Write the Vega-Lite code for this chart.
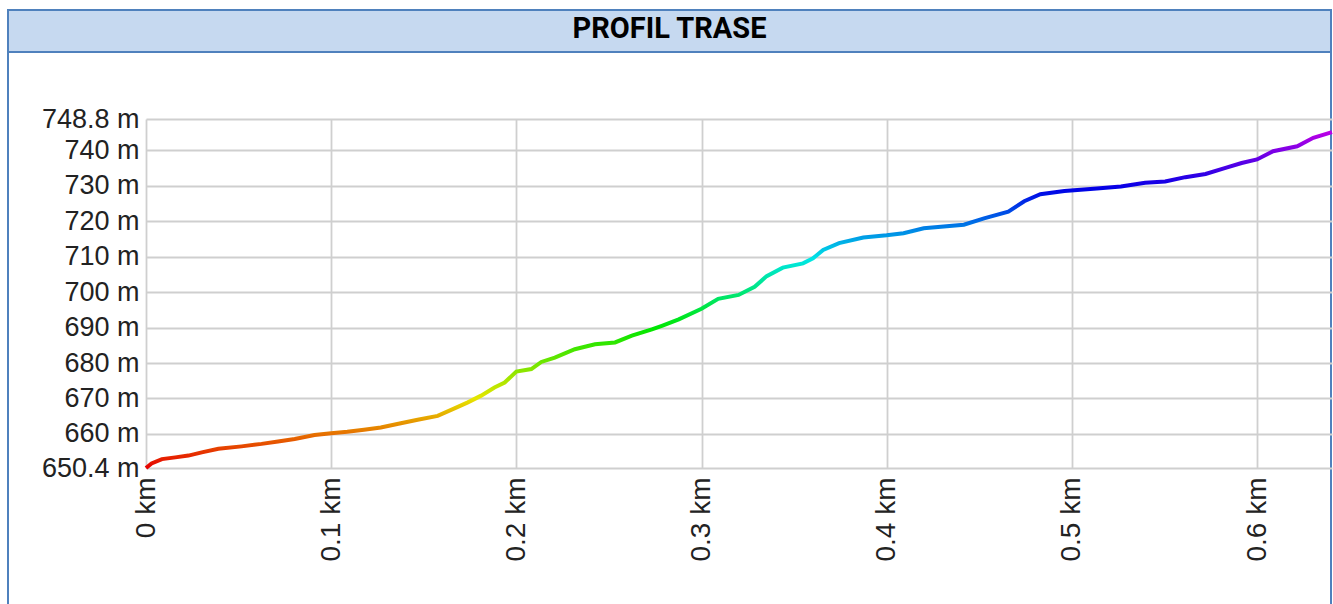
{
  "$schema": "https://vega.github.io/schema/vega-lite/v6.json",
  "background": "white",
  "padding": {"left": 7, "top": 9, "right": 0, "bottom": 0},
  "config": {"view": {"stroke": null}},
  "spacing": 0,
  "bounds": "flush",
  "vconcat": [
    {
      "width": 1323,
      "height": 42,
      "view": {"fill": "#c6d9f0", "stroke": "#4f81bd", "strokeWidth": 2},
      "data": {"values": [{"t": "PROFIL TRASE"}]},
      "mark": {"type": "text", "font": "Roboto", "fontSize": 29, "fontWeight": "bold", "color": "#000000", "dy": -2},
      "encoding": {"text": {"field": "t", "type": "nominal"}}
    },
    {
      "width": 1323,
      "height": 555,
      "view": {"fill": "white", "stroke": "#4f81bd", "strokeWidth": 2},
      "data": {"values": [
        {"km": 0, "m": 650.4},
        {"km": 0.003, "m": 651.7},
        {"km": 0.0086, "m": 652.9},
        {"km": 0.0158, "m": 653.4},
        {"km": 0.0229, "m": 653.9},
        {"km": 0.0301, "m": 654.8},
        {"km": 0.0391, "m": 655.8},
        {"km": 0.0516, "m": 656.5},
        {"km": 0.0624, "m": 657.2},
        {"km": 0.0713, "m": 657.9},
        {"km": 0.0803, "m": 658.6},
        {"km": 0.091, "m": 659.7},
        {"km": 0.1, "m": 660.2},
        {"km": 0.1087, "m": 660.6},
        {"km": 0.1177, "m": 661.2},
        {"km": 0.1268, "m": 661.8},
        {"km": 0.1376, "m": 663.0},
        {"km": 0.1467, "m": 664.0},
        {"km": 0.1575, "m": 665.1},
        {"km": 0.1666, "m": 667.2},
        {"km": 0.1738, "m": 668.9},
        {"km": 0.181, "m": 670.8},
        {"km": 0.1882, "m": 673.1},
        {"km": 0.1937, "m": 674.5},
        {"km": 0.2, "m": 677.6},
        {"km": 0.2081, "m": 678.3},
        {"km": 0.2135, "m": 680.3},
        {"km": 0.2208, "m": 681.5},
        {"km": 0.2316, "m": 683.9},
        {"km": 0.2425, "m": 685.3},
        {"km": 0.2533, "m": 685.8},
        {"km": 0.2624, "m": 687.7},
        {"km": 0.2732, "m": 689.5},
        {"km": 0.2786, "m": 690.5},
        {"km": 0.2877, "m": 692.3},
        {"km": 0.3, "m": 695.3},
        {"km": 0.309, "m": 698.1},
        {"km": 0.32, "m": 699.2},
        {"km": 0.3287, "m": 701.5},
        {"km": 0.3352, "m": 704.5},
        {"km": 0.3439, "m": 706.9},
        {"km": 0.3548, "m": 708.1},
        {"km": 0.3602, "m": 709.5},
        {"km": 0.3657, "m": 711.9},
        {"km": 0.3743, "m": 713.8},
        {"km": 0.3874, "m": 715.4},
        {"km": 0.4, "m": 716.0},
        {"km": 0.4091, "m": 716.6},
        {"km": 0.42, "m": 718.0},
        {"km": 0.4417, "m": 719.0},
        {"km": 0.4526, "m": 720.8},
        {"km": 0.4657, "m": 722.7},
        {"km": 0.4743, "m": 725.6},
        {"km": 0.483, "m": 727.6},
        {"km": 0.496, "m": 728.5},
        {"km": 0.5135, "m": 729.2},
        {"km": 0.5265, "m": 729.8},
        {"km": 0.5396, "m": 730.8},
        {"km": 0.5504, "m": 731.2},
        {"km": 0.5613, "m": 732.4},
        {"km": 0.5722, "m": 733.3},
        {"km": 0.583, "m": 735.0},
        {"km": 0.5917, "m": 736.4},
        {"km": 0.6, "m": 737.4},
        {"km": 0.6087, "m": 739.7},
        {"km": 0.6217, "m": 741.1},
        {"km": 0.6304, "m": 743.5},
        {"km": 0.6405, "m": 745.1}
      ]},
      "encoding": {
        "y": {
          "field": "m",
          "type": "quantitative",
          "scale": {"domain": [650.4, 748.8], "range": [416, 67], "nice": false, "zero": false},
          "axis": {
            "values": [650.4, 660, 670, 680, 690, 700, 710, 720, 730, 740, 748.8],
            "format": ".1~f",
            "labelExpr": "datum.label + ' m'",
            "labelFont": "Liberation Sans",
            "labelFontSize": 27,
            "labelColor": "#222222",
            "labelPadding": 7,
            "offset": -138,
            "ticks": false,
            "tickSize": 0,
            "domain": false,
            "grid": true,
            "gridColor": "#cfcfcf",
            "gridWidth": 1.8,
            "labelFlush": false,
            "labelOverlap": false,
            "title": null
          }
        }
      },
      "layer": [
        {
          "mark": {"type": "point", "opacity": 0},
          "encoding": {
            "x": {
              "field": "km",
              "type": "quantitative",
              "scale": {"domain": [0, 0.6405], "range": [138, 1324], "nice": false, "zero": false},
              "axis": {
                "orient": "top",
                "values": [0, 0.1, 0.2, 0.3, 0.4, 0.5, 0.6],
                "labels": false,
                "ticks": false,
                "tickSize": 0,
                "domain": false,
                "grid": true,
                "gridColor": "#cfcfcf",
                "gridWidth": 1.8,
                "title": null
              }
            }
          }
        },
        {
          "mark": {
            "type": "line",
            "strokeWidth": 4,
            "interpolate": "linear",
            "stroke": {
              "gradient": "linear",
              "x1": 0, "y1": 1, "x2": 0, "y2": 0,
              "stops": [
                {"offset": 0, "color": "#e60000"},
                {"offset": 0.2076, "color": "#e6e600"},
                {"offset": 0.415, "color": "#00e600"},
                {"offset": 0.623, "color": "#00e6e6"},
                {"offset": 0.83, "color": "#0000e6"},
                {"offset": 1, "color": "#bb00e6"}
              ]
            }
          },
          "encoding": {
            "x": {
              "field": "km",
              "type": "quantitative",
              "scale": {"domain": [0, 0.6405], "range": [138, 1324], "nice": false, "zero": false},
              "axis": {
                "orient": "bottom",
                "values": [0, 0.1, 0.2, 0.3, 0.4, 0.5, 0.6],
                "format": ".1~f",
                "labelExpr": "datum.label + ' km'",
                "labelAngle": 270,
                "labelAlign": "right",
                "labelBaseline": "middle",
                "labelFont": "Liberation Sans",
                "labelFontSize": 28,
                "labelColor": "#222222",
                "labelPadding": 9,
                "offset": -139,
                "ticks": false,
                "tickSize": 0,
                "domain": false,
                "grid": false,
                "labelFlush": false,
                "labelOverlap": false,
                "title": null
              }
            }
          }
        }
      ],
      "resolve": {"axis": {"x": "independent"}}
    }
  ]
}
